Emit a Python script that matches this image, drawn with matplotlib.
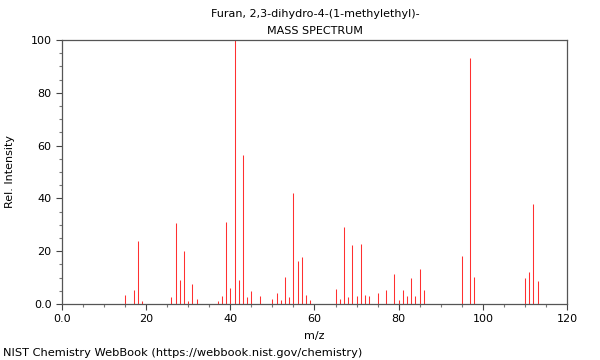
import numpy as np
import matplotlib
matplotlib.use("Agg")
import matplotlib.pyplot as plt
from matplotlib.ticker import MultipleLocator, FuncFormatter

# peaks
mz = [15, 17, 18, 19, 26, 27, 28, 29, 30, 31, 32, 37, 38, 39, 40, 41, 42, 43,
      44, 45, 47, 50, 51, 52, 53, 54, 55, 56, 57, 58, 59, 65, 66, 67, 68, 69,
      70, 71, 72, 73, 75, 77, 79, 80, 81, 82, 83, 84, 85, 86, 95, 97, 98,
      110, 111, 112, 113]
intensity = [3.5, 5.2, 23.7, 1.1, 2.7, 30.6, 9.1, 20.1, 1.1, 7.6, 1.7, 1.1,
             3.1, 31.2, 6.1, 100, 9.2, 56.3, 2.7, 5.1, 3.1, 2.0, 4.0, 1.6,
             10.1, 2.7, 42.0, 16.3, 17.8, 3.4, 1.6, 5.5, 2.0, 29.2, 2.7, 22.3,
             3.1, 22.7, 3.4, 3.1, 4.0, 5.2, 11.2, 1.6, 5.2, 3.1, 9.7, 3.1,
             13.3, 5.2, 18.2, 93.2, 10.2, 9.7, 12.3, 37.9, 8.7]

title = "Furan, 2,3-dihydro-4-(1-methylethyl)-"

fig = plt.figure(figsize=(6, 3.6), dpi=100)
ax = fig.add_axes([0.1033, 0.1556, 0.8417, 0.7333])

ax.vlines(mz, 0, intensity, colors="#ff3030", linewidth=0.75)

ax.set_xlim(0, 120)
ax.set_ylim(0, 100)
ax.xaxis.set_major_locator(MultipleLocator(20))
ax.xaxis.set_minor_locator(MultipleLocator(5))
ax.yaxis.set_major_locator(MultipleLocator(20))
ax.yaxis.set_minor_locator(MultipleLocator(5))
fmt = FuncFormatter(lambda v, p: "0.0" if v == 0 else "%d" % v)
ax.xaxis.set_major_formatter(fmt)
ax.yaxis.set_major_formatter(fmt)
ax.tick_params(which="major", length=4, width=0.8, color="#444444", labelsize=8)
ax.tick_params(which="minor", length=2.5, width=0.8, color="#777777")
for s in ax.spines.values():
    s.set_color("#555555")
    s.set_linewidth(0.9)

ax.set_xlabel("m/z", fontsize=8, labelpad=5)
ax.set_ylabel("Rel. Intensity", fontsize=8, labelpad=11)

fig.text(0.525, 0.962, title, ha="center", va="center", fontsize=8)
fig.text(0.525, 0.915, "MASS SPECTRUM", ha="center", va="center", fontsize=8)
fig.text(0.005, 0.02, "NIST Chemistry WebBook (https://webbook.nist.gov/chemistry)",
         ha="left", va="center", fontsize=8.2)

fig.savefig("out.png", dpi=100)
